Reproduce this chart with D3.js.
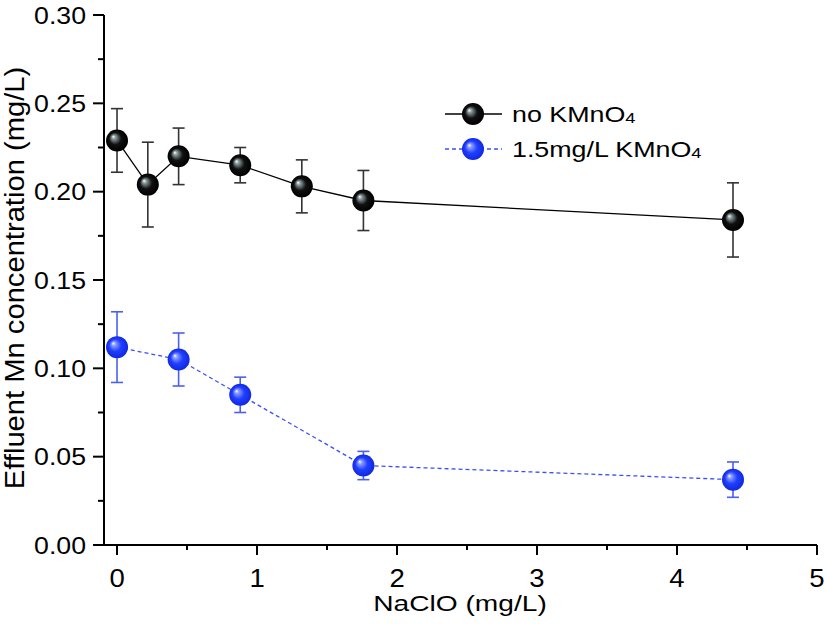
<!DOCTYPE html>
<html>
  <head>
    <script src="https://d3js.org/d3.v7.min.js"></script>
    <style>
      html, body { margin:0; padding:0; background:#fff; }
      svg text { font-family: "Liberation Sans", Arial, sans-serif; fill:#000; }
    </style>
  </head>
  <body>
    <svg id="chart" width="827" height="624"></svg>
    <script>
      // NaClO dose (mg/L) and effluent Mn (mg/L), with error bars
      var xNo = [0, 0.22, 0.44, 0.88, 1.32, 1.76, 4.4];
      var yNo = [0.229, 0.204, 0.220, 0.215, 0.203, 0.195, 0.184];
      var eNo = [0.018, 0.024, 0.016, 0.010, 0.015, 0.017, 0.021];

      var xK = [0, 0.44, 0.88, 1.76, 4.4];
      var yK = [0.112, 0.105, 0.085, 0.045, 0.037];
      var eK = [0.020, 0.015, 0.010, 0.008, 0.010];

      var xTicks = [0, 1, 2, 3, 4, 5];
      var yTicks = [0, 0.05, 0.10, 0.15, 0.20, 0.25, 0.30];

      var svg = d3.select("#chart");

      var x = d3.scaleLinear().domain([-0.093, 5]).range([104, 817]);
      var y = d3.scaleLinear().domain([0, 0.30]).range([545, 15]);

      // the original font is wider than Liberation Sans, so stretch text a bit
      function label(sel, tx, ty, txt, size, sx, anchor, rot) {
        return sel.append("text")
          .attr("transform", "translate(" + tx + "," + ty + ")" + (rot ? " rotate(" + rot + ")" : "") + " scale(" + sx + ",1)")
          .attr("font-size", size).attr("text-anchor", anchor || "start").text(txt);
      }

      // gradients for the shiny balls
      var defs = svg.append("defs");
      function ball(id, c0, c1, c2) {
        var g = defs.append("radialGradient").attr("id", id)
          .attr("cx", "50%").attr("cy", "50%").attr("r", "50%")
          .attr("fx", "32%").attr("fy", "32%");
        g.append("stop").attr("offset", "0%").attr("stop-color", "#ffffff");
        g.append("stop").attr("offset", "18%").attr("stop-color", c0);
        g.append("stop").attr("offset", "55%").attr("stop-color", c1);
        g.append("stop").attr("offset", "100%").attr("stop-color", c2);
      }
      ball("gBlack", "#8a9a9e", "#101010", "#000000");
      ball("gBlue", "#8c9cff", "#2040ff", "#1028e0");

      // axes
      var xAxis = svg.append("g").attr("transform", "translate(0,545)");
      xAxis.append("line").attr("x1", 93).attr("x2", 817)
        .attr("stroke", "#000").attr("stroke-width", 2);
      xAxis.selectAll(".maj").data(xTicks).enter().append("line")
        .attr("x1", d => x(d)).attr("x2", d => x(d)).attr("y1", 0).attr("y2", 10)
        .attr("stroke", "#000").attr("stroke-width", 2);
      xAxis.selectAll(".min").data(d3.range(0.5, 5, 1)).enter().append("line")
        .attr("x1", d => x(d)).attr("x2", d => x(d)).attr("y1", 0).attr("y2", 5)
        .attr("stroke", "#000").attr("stroke-width", 2);
      xTicks.forEach(d => label(xAxis, x(d), 42, d, 25, 1.1, "middle"));

      var yAxis = svg.append("g");
      yAxis.append("line").attr("x1", 104).attr("x2", 104).attr("y1", 15).attr("y2", 546)
        .attr("stroke", "#000").attr("stroke-width", 2);
      yAxis.selectAll(".maj").data(yTicks).enter().append("line")
        .attr("x1", 93).attr("x2", 104).attr("y1", d => y(d)).attr("y2", d => y(d))
        .attr("stroke", "#000").attr("stroke-width", 2);
      yAxis.selectAll(".min").data(d3.range(0.025, 0.3, 0.05)).enter().append("line")
        .attr("x1", 98).attr("x2", 104).attr("y1", d => y(d)).attr("y2", d => y(d))
        .attr("stroke", "#000").attr("stroke-width", 2);
      yTicks.forEach(d => label(yAxis, 86, y(d) + 8.5, d.toFixed(2), 23, 1.16, "end"));

      label(svg, 460, 611, "NaClO (mg/L)", 22, 1.28, "middle");
      label(svg, 24, 278, "Effluent Mn concentration (mg/L)", 27, 1.08, "middle", -90);

      function series(xs, ys, es, opt) {
        var pts = xs.map((d, i) => [d, ys[i], es[i]]);
        var g = svg.append("g");
        g.append("path").datum(pts)
          .attr("d", d3.line().x(d => x(d[0])).y(d => y(d[1])))
          .attr("fill", "none").attr("stroke", opt.line).attr("stroke-width", 1.3)
          .attr("stroke-dasharray", opt.dash);
        var eb = g.selectAll(".eb").data(pts).enter().append("g")
          .attr("stroke", opt.err).attr("stroke-width", 1.6);
        eb.append("line").attr("x1", d => x(d[0])).attr("x2", d => x(d[0]))
          .attr("y1", d => y(d[1] + d[2])).attr("y2", d => y(d[1] - d[2]));
        eb.append("line").attr("x1", d => x(d[0]) - 6).attr("x2", d => x(d[0]) + 6)
          .attr("y1", d => y(d[1] + d[2])).attr("y2", d => y(d[1] + d[2]));
        eb.append("line").attr("x1", d => x(d[0]) - 6).attr("x2", d => x(d[0]) + 6)
          .attr("y1", d => y(d[1] - d[2])).attr("y2", d => y(d[1] - d[2]));
        g.selectAll("circle").data(pts).enter().append("circle")
          .attr("cx", d => x(d[0])).attr("cy", d => y(d[1])).attr("r", 11)
          .attr("fill", "url(#" + opt.grad + ")");
      }
      series(xNo, yNo, eNo, { line: "#000", err: "#333", dash: null, grad: "gBlack" });
      series(xK, yK, eK, { line: "#3a50f0", err: "#4a60f0", dash: "4,3", grad: "gBlue" });

      // legend
      var legend = [
        { label: "no KMnO", line: "#000", dash: null, grad: "gBlack" },
        { label: "1.5mg/L KMnO", line: "#3a50f0", dash: "4,3", grad: "gBlue" }
      ];
      var lg = svg.selectAll(".lg").data(legend).enter().append("g")
        .attr("transform", (d, i) => "translate(0," + (114 + i * 35) + ")");
      lg.append("line").attr("x1", 445).attr("x2", 502)
        .attr("stroke", d => d.line).attr("stroke-width", 1.3).attr("stroke-dasharray", d => d.dash);
      lg.append("circle").attr("cx", 473).attr("cy", 0).attr("r", 11)
        .attr("fill", d => "url(#" + d.grad + ")");
      var lt = lg.append("text").attr("transform", "translate(512,8) scale(1.22,1)")
        .attr("font-size", 22);
      lt.append("tspan").text(d => d.label);
      lt.append("tspan").attr("font-size", 15).attr("dy", 1).text("4");
    </script>
  </body>
</html>
